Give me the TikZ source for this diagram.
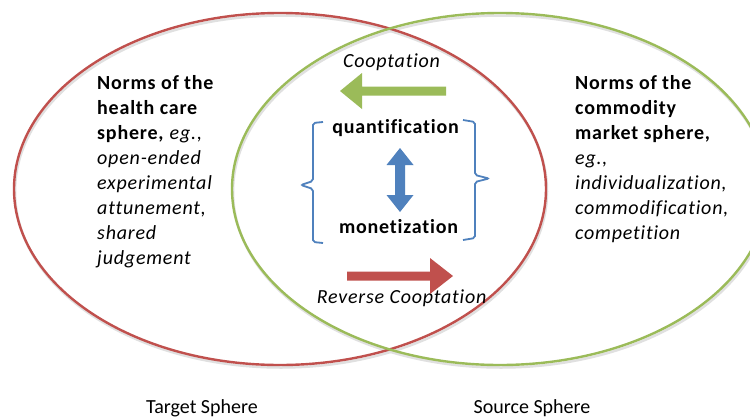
\documentclass[tikz,border=0pt]{standalone}
\usepackage{fontspec}
\setmainfont{Carlito}[Ligatures=NoCommon]
\newfontfamily\spaced{Carlito}[LetterSpace=4,Ligatures=NoCommon]
\definecolor{cred}{HTML}{C0504D}
\definecolor{cgreen}{HTML}{9BBB59}
\definecolor{cblue}{HTML}{4F81BD}
\begin{document}
\begin{tikzpicture}[x=1pt,y=-1pt,
  sphere/.style={line width=2.4pt},
  brack/.style={draw=cblue,line width=1.8pt,rounded corners=2pt},
  lbl/.style={font=\fontsize{20}{25}\selectfont,inner sep=0pt,anchor=base},
  blocktext/.style={font=\fontsize{20}{25}\selectfont\spaced,inner sep=0pt,align=left,anchor=north west},
  midtext/.style={font=\fontsize{20}{25}\selectfont\spaced,inner sep=0pt,anchor=base}]
\useasboundingbox (0,0) rectangle (750,418);
\clip (0,0) rectangle (750,418);
\fill[white] (0,0) rectangle (750,418);
% shadows
\draw[black!12,line width=2.5pt] (281,191.5) ellipse [x radius=266,y radius=176];
\draw[black!12,line width=2.5pt] (501,191.5) ellipse [x radius=268,y radius=176];
% spheres
\draw[sphere,cred] (280,189) ellipse [x radius=266,y radius=176];
\draw[sphere,cgreen] (500,189) ellipse [x radius=268,y radius=176];
% left block
\node[blocktext] (left) at (97,75) {\textbf{Norms of the}\\\textbf{health care}\\\textbf{sphere,} \textit{eg.,}\\\textit{open-ended}\\\textit{experimental}\\\textit{attunement,}\\\textit{shared}\\\textit{judgement}};
% right block
\node[blocktext] (right) at (575,75) {\textbf{Norms of the}\\\textbf{commodity}\\\textbf{market sphere,}\\\textit{eg.,}\\\textit{individualization,}\\\textit{commodification,}\\\textit{competition}};
% middle
\node[midtext] (coop) at (392,67) {\textit{Cooptation}};
\node[midtext] (quant) at (396,133) {\textbf{quantification}};
\node[midtext] (monet) at (399,233) {\textbf{monetization}};
\node[midtext] (rev) at (402,303) {\textit{Reverse Cooptation}};
% green arrow (left)
\fill[cgreen] (446,86.5) -- (362,86.5) -- (362,73) -- (340,91) -- (362,109) -- (362,95.5) -- (446,95.5) -- cycle;
% red arrow (right)
\fill[cred] (347,271.5) -- (430,271.5) -- (430,258) -- (453,276) -- (430,294) -- (430,280.5) -- (347,280.5) -- cycle;
% blue double arrow
\fill[cblue] (395,165) -- (386.5,165) -- (400,148) -- (413.5,165) -- (405,165) -- (405,195) -- (413.5,195) -- (400,212) -- (386.5,195) -- (395,195) -- cycle;
% brackets
\draw[brack] (323,122) -- (313,123) -- (313,181) -- (301,185) -- (313,189) -- (313,242) -- (323,243);
\draw[brack] (463,120) -- (475,122) -- (475,175) -- (489,178.5) -- (475,182) -- (475,238) -- (463,240);
% bottom labels
\node[lbl] (target) at (202,413) {Target Sphere};
\node[lbl] (source) at (532,413) {Source Sphere};
\end{tikzpicture}
\end{document}
